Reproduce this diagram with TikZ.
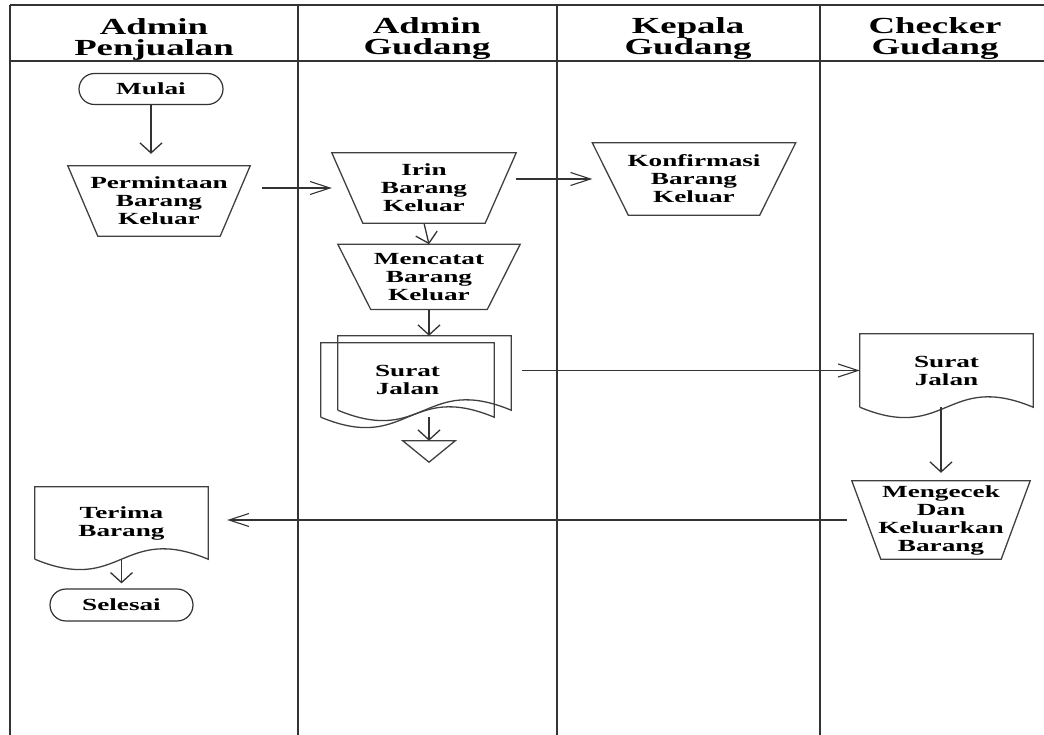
\documentclass[tikz,border=0pt]{standalone}
\usepackage{fontspec}
\newfontfamily\wideserif[FakeStretch=1.6]{Liberation Serif}
\newcommand{\flowfont}{\wideserif\bfseries\fontsize{17}{18}\selectfont}
\newcommand{\lanefont}{\wideserif\bfseries\fontsize{23}{21}\selectfont}
\usetikzlibrary{%
  shapes.geometric, shapes.misc, arrows.meta, calc, positioning
}
\usepackage{xcolor}
\tikzstyle{terminal} = [%
  rounded rectangle,
  draw=black!80,
  line width=1.2pt,
  minimum width=144pt,
  minimum height=31pt,
  inner sep=0pt,
  font=\flowfont
]
\tikzstyle{manual} = [%
  rectangle,
  minimum width=182pt,
  minimum height=70pt,
  align=center,
  inner sep=0pt,
  font=\flowfont
]
\tikzstyle{doc} = [%
  rectangle,
  minimum width=173pt,
  minimum height=73pt,
  align=center,
  inner sep=0pt,
  font=\flowfont
]
% outlines drawn round the named nodes
\newcommand{\manualoutline}[2]{%
  \draw[shapeline] (#1.north west) -- (#1.north east)
    -- ([xshift=-#2]#1.south east) -- ([xshift=#2]#1.south west) -- cycle;
}
\newcommand{\docoutline}[1]{%
  \draw[shapeline] (#1.south west) -- (#1.north west) -- (#1.north east) -- (#1.south east)
    .. controls ($(#1.south)+(0,-36)$) and ($(#1.south)+(0,36)$) .. (#1.south west);
}

\begin{document}
\begin{tikzpicture}[%
  x=1pt, y=-1pt,
  every node/.style={text=black},
  lane/.style={draw=black!80, line width=1.7pt},
  shapeline/.style={draw=black!75, line width=1.3pt},
  vflow/.style={draw=black!80, line width=1.3pt, -{Straight Barb[length=10pt,width=22pt]}},
  hflow/.style={draw=black!80, line width=1.1pt, -{Straight Barb[length=20pt,width=13pt]}},
  header/.style={font=\lanefont, align=center, inner sep=0pt}
]
  \useasboundingbox (0,0) rectangle (1044,735);

  % Lanes
  \draw[lane] (10,5) -- (1044,5);
  \draw[lane] (10,61) -- (1044,61);
  \foreach \x in {10,298,557,820}
    \draw[lane] (\x,5) -- (\x,735);

  \node[header] (h1) at (154,39) {Admin\\Penjualan};
  \node[header] (h2) at (427,39) {Admin\\Gudang};
  \node[header] (h3) at (688,39) {Kepala\\Gudang};
  \node[header] (h4) at (935,39) {Checker\\Gudang};

  % Nodes
  \node[terminal] (mulai) at (151,89) {Mulai};
  \node[manual] (perm) at (159,201) {Permintaan\\Barang\\Keluar};
  \node[manual,minimum width=184pt] (irin) at (424,188) {Irin\\Barang\\Keluar};
  \node[manual,minimum width=203pt,minimum height=72pt] (konf) at (694,179) {Konfirmasi\\Barang\\Keluar};
  \node[manual,minimum height=65pt,below=21pt of irin,xshift=5pt] (catat) {Mencatat\\Barang\\Keluar};
  \node[doc,minimum height=74pt] (sj1) at (407.5,380) {Surat\\Jalan};
  \node[doc,minimum height=74pt] (sj1b) at ([xshift=17pt,yshift=7pt]sj1.center) {};
  \node[rectangle,minimum width=52pt,minimum height=21pt,inner sep=0pt] (store) at (429,451.5) {};
  \node[doc] (sj2) at (946.5,370.5) {Surat\\Jalan};
  \node[manual,minimum width=178pt,minimum height=78pt] (cek) at (941,520) {Mengecek\\Dan\\Keluarkan\\Barang};
  \node[doc,minimum height=72pt] (terima) at (121.5,523) {Terima\\Barang};
  \node[terminal,minimum width=143pt,minimum height=32pt] (selesai) at (121.5,605) {Selesai};

  \manualoutline{perm}{30pt}
  \manualoutline{irin}{31pt}
  \manualoutline{konf}{36pt}
  \manualoutline{catat}{33pt}
  \manualoutline{cek}{29pt}
  \docoutline{sj1b}
  \docoutline{sj1}
  \docoutline{sj2}
  \docoutline{terima}
  \draw[shapeline] (store.north west) -- (store.north east) -- (store.south) -- cycle;

  % Flow edges
  \draw[vflow, shorten >=12pt] (mulai.south) -- (mulai.south |- perm.north);
  \draw[hflow, shorten <=12pt] (perm.east |- irin.west) -- (irin.west);
  \draw[hflow] (irin.east |- konf.west) -- (konf.west);
  \draw[vflow] (irin.south) -- (catat.north);
  \draw[vflow] (catat.south) -- (catat.south |- sj1b.north);
  \draw[vflow] (store.north |- sj1.south) -- (store.north);
  \draw[hflow, shorten <=11pt] (sj1b.east |- sj2.west) -- (sj2.west);
  \draw[vflow, shorten >=8pt] (cek.north |- sj2.south) -- (cek.north);
  \draw[hflow, shorten <=5pt, shorten >=19pt] (cek.west) -- (cek.west -| terima.east);
  \draw[vflow, shorten >=5pt] (terima.south) -- (selesai.north);

\end{tikzpicture}
\end{document}
